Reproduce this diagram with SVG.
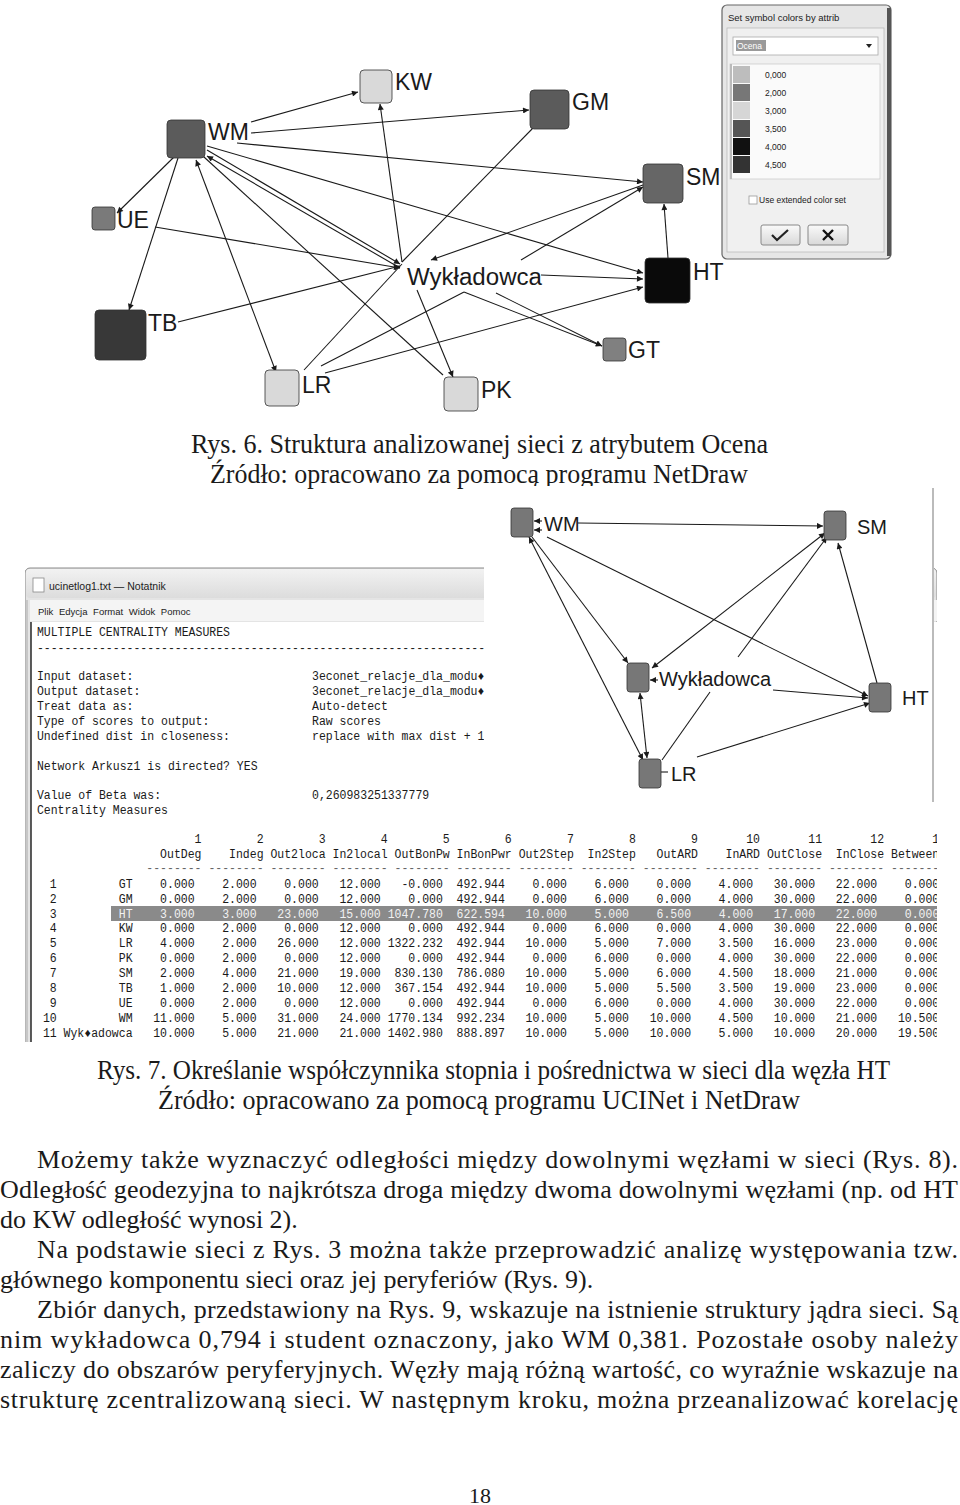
<svg xmlns="http://www.w3.org/2000/svg" width="960" height="1505" viewBox="0 0 960 1505">
<style>
.lbl{font-family:"Liberation Sans",Arial,sans-serif;font-size:23px;fill:#1a1a1a}
.lbl2{font-family:"Liberation Sans",Arial,sans-serif;font-size:20px;fill:#1a1a1a}
.e{stroke:#1a1a1a;stroke-width:1.1;fill:none}
.cap{font-family:"Liberation Serif","Times New Roman",serif;font-size:27px;fill:#1a1a1a;text-anchor:middle}
.par{font-family:"Liberation Serif","Times New Roman",serif;font-size:26px;fill:#1a1a1a}
.mono{font-family:"Liberation Mono","DejaVu Sans Mono",monospace;font-size:12.5px;fill:#1a1a1a;white-space:pre}
.dlg{font-family:"Liberation Sans",Arial,sans-serif;font-size:8.5px;fill:#222}
.n{stroke:#333;stroke-width:0.8}
</style>
<defs>
<marker id="ah" viewBox="0 0 10 10" refX="10" refY="5" markerWidth="7" markerHeight="6" markerUnits="userSpaceOnUse" orient="auto-start-reverse"><path d="M0,0 L10,5 L0,10 z" fill="#1a1a1a"/></marker>
<clipPath id="clipTab"><rect x="25" y="560" width="912" height="482"/></clipPath>
<linearGradient id="tb" x1="0" y1="0" x2="0" y2="1"><stop offset="0" stop-color="#f2f2f2"/><stop offset="1" stop-color="#dcdcdc"/></linearGradient>
<linearGradient id="btn" x1="0" y1="0" x2="0" y2="1"><stop offset="0" stop-color="#fafafa"/><stop offset="1" stop-color="#d8d8d8"/></linearGradient>
</defs>
<rect width="960" height="1505" fill="#ffffff"/>

<!-- ===== Figure 6: network ===== -->
<g id="connectors-fig6">
<line class="e" x1="251" y1="122" x2="358" y2="92" marker-end="url(#ah)"/>
<line class="e" x1="251" y1="133" x2="529" y2="110" marker-end="url(#ah)"/>
<line class="e" x1="237" y1="143" x2="643" y2="182" marker-end="url(#ah)"/>
<line class="e" x1="174" y1="157" x2="117" y2="213" marker-end="url(#ah)"/>
<line class="e" x1="178" y1="158" x2="129" y2="310" marker-end="url(#ah)"/>
<line class="e" x1="196" y1="160" x2="276" y2="372" marker-start="url(#ah)" marker-end="url(#ah)"/>
<line class="e" x1="204" y1="157" x2="443" y2="375"/>
<line class="e" x1="207" y1="150" x2="400" y2="264" marker-end="url(#ah)"/>
<line class="e" x1="400" y1="268" x2="207" y2="156" marker-end="url(#ah)"/>
<line class="e" x1="207" y1="146" x2="643" y2="273" marker-end="url(#ah)"/>
<line class="e" x1="533" y1="128" x2="402" y2="262"/>
<line class="e" x1="643" y1="185" x2="431" y2="260" marker-end="url(#ah)"/>
<line class="e" x1="521" y1="260" x2="643" y2="187" marker-end="url(#ah)"/>
<line class="e" x1="402" y1="262" x2="380" y2="104" marker-end="url(#ah)"/>
<line class="e" x1="155" y1="227" x2="400" y2="268" marker-end="url(#ah)"/>
<line class="e" x1="178" y1="322" x2="400" y2="266" marker-end="url(#ah)"/>
<line class="e" x1="304" y1="370" x2="402" y2="264"/>
<line class="e" x1="541" y1="275" x2="643" y2="279" marker-end="url(#ah)"/>
<line class="e" x1="464" y1="292" x2="602" y2="346" marker-end="url(#ah)"/>
<line class="e" x1="496" y1="293" x2="602" y2="346" marker-end="url(#ah)"/>
<line class="e" x1="321" y1="366" x2="464" y2="292"/>
<line class="e" x1="325" y1="373" x2="643" y2="287" marker-end="url(#ah)"/>
<line class="e" x1="668" y1="258" x2="664" y2="204" marker-end="url(#ah)"/>
<line class="e" x1="417" y1="290" x2="453" y2="377" marker-end="url(#ah)"/>
</g>
<g id="n6-WM"><rect class="n" x="167" y="120" width="38" height="38" rx="4" fill="#5b5b5b"/><text class="lbl" x="208" y="140">WM</text></g>
<g id="n6-KW"><rect class="n" x="360" y="70" width="32" height="33" rx="4" fill="#d9d9d9"/><text class="lbl" x="395" y="90">KW</text></g>
<g id="n6-GM"><rect class="n" x="530" y="90" width="39" height="39" rx="4" fill="#5b5b5b"/><text class="lbl" x="572" y="110">GM</text></g>
<g id="n6-SM"><rect class="n" x="643" y="164" width="40" height="39" rx="4" fill="#666666"/><text class="lbl" x="686" y="185">SM</text></g>
<g id="n6-UE"><rect class="n" x="92" y="207" width="23" height="23" rx="3" fill="#7a7a7a"/><text class="lbl" x="117" y="228">UE</text></g>
<g id="n6-HT"><rect class="n" x="645" y="258" width="45" height="45" rx="4" fill="#0a0a0a"/><text class="lbl" x="693" y="280">HT</text></g>
<g id="n6-Wyk"><text class="lbl" x="407" y="285" textLength="135" lengthAdjust="spacingAndGlyphs">Wykładowca</text></g>
<g id="n6-TB"><rect class="n" x="95" y="310" width="51" height="50" rx="4" fill="#383838"/><text class="lbl" x="148" y="331">TB</text></g>
<g id="n6-GT"><rect class="n" x="603" y="338" width="23" height="23" rx="3" fill="#808080"/><text class="lbl" x="628" y="358">GT</text></g>
<g id="n6-LR"><rect class="n" x="265" y="370" width="34" height="36" rx="4" fill="#d9d9d9"/><text class="lbl" x="302" y="393">LR</text></g>
<g id="n6-PK"><rect class="n" x="444" y="377" width="34" height="34" rx="4" fill="#d9d9d9"/><text class="lbl" x="481" y="398">PK</text></g>

<!-- legend dialog -->
<g id="dialog">
<rect x="722" y="5" width="169" height="254" rx="5" fill="#e6e6e6" stroke="#666" stroke-width="1.2"/>
<rect x="887" y="8" width="4" height="248" fill="#555"/>
<text class="dlg" x="728" y="21" style="font-size:9.5px">Set symbol colors by attrib</text>
<rect x="727" y="28" width="157" height="224" fill="#f0f0f0" stroke="#bbb" stroke-width="0.8"/>
<rect x="733" y="37" width="145" height="18" fill="#fff" stroke="#aaa" stroke-width="0.8"/>
<rect x="736" y="40" width="30" height="11" fill="#9a9a9a"/>
<text class="dlg" x="737" y="49" style="fill:#fff">Ocena</text>
<path d="M866,44 L872,44 L869,48 z" fill="#222"/>
<rect x="730" y="64" width="150" height="115" fill="#fafafa" stroke="#ccc" stroke-width="0.8"/>
<rect x="730" y="64" width="2" height="115" fill="#bbb"/>
<rect x="733" y="66" width="17" height="17" fill="#bdbdbd"/>
<rect x="733" y="84" width="17" height="17" fill="#777777"/>
<rect x="733" y="102" width="17" height="17" fill="#d6d6d6"/>
<rect x="733" y="120" width="17" height="17" fill="#555555"/>
<rect x="733" y="138" width="17" height="17" fill="#111111"/>
<rect x="733" y="156" width="17" height="17" fill="#333333"/>
<text class="dlg" x="765" y="78">0,000</text>
<text class="dlg" x="765" y="96">2,000</text>
<text class="dlg" x="765" y="114">3,000</text>
<text class="dlg" x="765" y="132">3,500</text>
<text class="dlg" x="765" y="150">4,000</text>
<text class="dlg" x="765" y="168">4,500</text>
<rect x="749" y="196" width="8" height="8" fill="#fff" stroke="#999" stroke-width="0.8"/>
<text class="dlg" x="759" y="203">Use extended color set</text>
<rect x="761" y="225" width="39" height="20" rx="2" fill="url(#btn)" stroke="#888"/>
<path d="M772,235 L777,240 L788,230" stroke="#222" stroke-width="2.2" fill="none"/>
<rect x="808" y="225" width="40" height="20" rx="2" fill="url(#btn)" stroke="#888"/>
<path d="M823,230 L833,240 M833,230 L823,240" stroke="#111" stroke-width="2.4" fill="none"/>
</g>

<g id="caption6">
<text class="cap" x="479.5" y="453" textLength="577" lengthAdjust="spacingAndGlyphs">Rys. 6. Struktura analizowanej sieci z atrybutem Ocena</text>
<text class="cap" x="479" y="483" textLength="538" lengthAdjust="spacingAndGlyphs">Źródło: opracowano za pomocą programu NetDraw</text>
</g>

<!-- ===== Figure 7: notepad ===== -->
<g id="notepad" clip-path="url(#clipTab)">
<rect x="25" y="568" width="912" height="480" rx="5" fill="#e4e4e4" stroke="#8a8a8a"/>
<rect x="26" y="569" width="910" height="29" rx="4" fill="url(#tb)"/>
<rect x="33" y="578" width="11" height="14" fill="#fff" stroke="#888" stroke-width="0.8"/>
<text x="49" y="590" style="font-family:'Liberation Sans',Arial,sans-serif;font-size:10.5px;fill:#222">ucinetlog1.txt — Notatnik</text>
<rect x="30" y="600" width="907" height="21" fill="#f4f4f4"/>
<text x="38" y="615" style="font-family:'Liberation Sans',Arial,sans-serif;font-size:9.5px;fill:#222;word-spacing:3px">Plik Edycja Format Widok Pomoc</text>
<rect x="31" y="622" width="906" height="426" fill="#ffffff"/>
<line x1="31" y1="622" x2="31" y2="1048" stroke="#333" stroke-width="1.6"/>
<line x1="27" y1="600" x2="27" y2="1048" stroke="#aaa" stroke-width="1"/>
<rect x="111" y="906" width="826" height="15" fill="#8a8a8a"/>
<g transform="translate(36 0) scale(0.92 1)">
<text class="mono" x="1" y="636">MULTIPLE CENTRALITY MEASURES</text>
<text class="mono" x="1" y="652">----------------------------------------------------------------------</text>
<text class="mono" x="1" y="680">Input dataset:</text>
<text class="mono" x="1" y="695">Output dataset:</text>
<text class="mono" x="1" y="710">Treat data as:</text>
<text class="mono" x="1" y="725">Type of scores to output:</text>
<text class="mono" x="1" y="740">Undefined dist in closeness:</text>
<text class="mono" x="300" y="680">3econet_relacje_dla_modu♦</text>
<text class="mono" x="300" y="695">3econet_relacje_dla_modu♦</text>
<text class="mono" x="300" y="710">Auto-detect</text>
<text class="mono" x="300" y="725">Raw scores</text>
<text class="mono" x="300" y="740">replace with max dist + 1</text>
<text class="mono" x="1" y="770">Network Arkusz1 is directed? YES</text>
<text class="mono" x="1" y="799">Value of Beta was:</text>
<text class="mono" x="300" y="799">0,260983251337779</text>
<text class="mono" x="1" y="814">Centrality Measures</text>
<text class="mono" x="0" y="843">                       1        2        3        4        5        6        7        8        9       10       11       12       13</text>
<text class="mono" x="0" y="858">                  OutDeg    Indeg Out2loca In2local OutBonPw InBonPwr Out2Step  In2Step   OutARD    InARD OutClose  InClose Betweenn</text>
<text class="mono" x="0" y="872" style="fill:#666">                -------- -------- -------- -------- -------- -------- -------- -------- -------- -------- -------- -------- --------</text>
<text class="mono" x="0" y="888">  1         GT    0.000    2.000    0.000   12.000   -0.000  492.944    0.000    6.000    0.000    4.000   30.000   22.000    0.000</text>
<text class="mono" x="0" y="903">  2         GM    0.000    2.000    0.000   12.000    0.000  492.944    0.000    6.000    0.000    4.000   30.000   22.000    0.000</text>
<text class="mono" x="0" y="918">  3         <tspan style="fill:#f2f2f2">HT    3.000    3.000   23.000   15.000 1047.780  622.594   10.000    5.000    6.500    4.000   17.000   22.000    0.000</tspan></text>
<text class="mono" x="0" y="932">  4         KW    0.000    2.000    0.000   12.000    0.000  492.944    0.000    6.000    0.000    4.000   30.000   22.000    0.000</text>
<text class="mono" x="0" y="947">  5         LR    4.000    2.000   26.000   12.000 1322.232  492.944   10.000    5.000    7.000    3.500   16.000   23.000    0.000</text>
<text class="mono" x="0" y="962">  6         PK    0.000    2.000    0.000   12.000    0.000  492.944    0.000    6.000    0.000    4.000   30.000   22.000    0.000</text>
<text class="mono" x="0" y="977">  7         SM    2.000    4.000   21.000   19.000  830.130  786.080   10.000    5.000    6.000    4.500   18.000   21.000    0.000</text>
<text class="mono" x="0" y="992">  8         TB    1.000    2.000   10.000   12.000  367.154  492.944   10.000    5.000    5.500    3.500   19.000   23.000    0.000</text>
<text class="mono" x="0" y="1007">  9         UE    0.000    2.000    0.000   12.000    0.000  492.944    0.000    6.000    0.000    4.000   30.000   22.000    0.000</text>
<text class="mono" x="0" y="1022"> 10         WM   11.000    5.000   31.000   24.000 1770.134  992.234   10.000    5.000   10.000    4.500   10.000   21.000   10.500</text>
<text class="mono" x="0" y="1037"> 11 Wyk♦adowca   10.000    5.000   21.000   21.000 1402.980  888.897   10.000    5.000   10.000    5.000   10.000   20.000   19.500</text>
</g>
</g>

<!-- Figure 7 network picture -->
<rect x="484" y="486" width="449" height="344" fill="#ffffff"/>
<line x1="933" y1="488" x2="933" y2="802" stroke="#bbb" stroke-width="2"/>
<g id="connectors-fig7">
<line class="e" x1="578" y1="523" x2="823" y2="526" marker-end="url(#ah)"/>
<line class="e" x1="542" y1="521" x2="534" y2="521" marker-end="url(#ah)"/>
<line class="e" x1="542" y1="530" x2="534" y2="530" marker-end="url(#ah)"/>
<line class="e" x1="547" y1="537" x2="868" y2="696" marker-end="url(#ah)"/>
<line class="e" x1="532" y1="537" x2="628" y2="663" marker-end="url(#ah)"/>
<line class="e" x1="529" y1="537" x2="643" y2="760" marker-start="url(#ah)" marker-end="url(#ah)"/>
<line class="e" x1="652" y1="668" x2="825" y2="533" marker-start="url(#ah)" marker-end="url(#ah)"/>
<line class="e" x1="738" y1="657" x2="827" y2="537" marker-end="url(#ah)"/>
<line class="e" x1="773" y1="690" x2="868" y2="698" marker-end="url(#ah)"/>
<line class="e" x1="658" y1="680" x2="650" y2="680" marker-end="url(#ah)"/>
<line class="e" x1="640" y1="693" x2="647" y2="758" marker-start="url(#ah)" marker-end="url(#ah)"/>
<line class="e" x1="662" y1="760" x2="710" y2="692"/>
<line class="e" x1="697" y1="757" x2="870" y2="703" marker-end="url(#ah)"/>
<line class="e" x1="877" y1="683" x2="838" y2="543" marker-end="url(#ah)"/>
<line class="e" x1="661" y1="772" x2="668" y2="772"/>
</g>
<g id="n7-WM"><rect class="n" x="511" y="508" width="22" height="29" rx="3" fill="#777"/><text class="lbl2" x="544" y="531">WM</text></g>
<g id="n7-SM"><rect class="n" x="824" y="511" width="22" height="29" rx="3" fill="#777"/><text class="lbl2" x="857" y="534">SM</text></g>
<g id="n7-Wyk"><rect class="n" x="627" y="663" width="22" height="29" rx="3" fill="#777"/><text class="lbl2" x="659" y="686">Wykładowca</text></g>
<g id="n7-HT"><rect class="n" x="869" y="683" width="22" height="29" rx="3" fill="#777"/><text class="lbl2" x="902" y="705">HT</text></g>
<g id="n7-LR"><rect class="n" x="639" y="759" width="22" height="29" rx="3" fill="#777"/><text class="lbl2" x="671" y="781">LR</text></g>

<g id="caption7">
<text class="cap" x="493.5" y="1079" textLength="793" lengthAdjust="spacingAndGlyphs">Rys. 7. Określanie współczynnika stopnia i pośrednictwa w sieci dla węzła HT</text>
<text class="cap" x="479" y="1109" textLength="642" lengthAdjust="spacingAndGlyphs">Źródło: opracowano za pomocą programu UCINet i NetDraw</text>
</g>

<g id="paragraph">
<text class="par" x="37" y="1168" textLength="921" lengthAdjust="spacing">Możemy także wyznaczyć odległości między dowolnymi węzłami w sieci (Rys. 8).</text>
<text class="par" x="0" y="1198" textLength="958" lengthAdjust="spacing">Odległość geodezyjna to najkrótsza droga między dwoma dowolnymi węzłami (np. od HT</text>
<text class="par" x="0" y="1228">do KW odległość wynosi 2).</text>
<text class="par" x="37" y="1258" textLength="921" lengthAdjust="spacing">Na podstawie sieci z Rys. 3 można także przeprowadzić analizę występowania tzw.</text>
<text class="par" x="0" y="1288">głównego komponentu sieci oraz jej peryferiów (Rys. 9).</text>
<text class="par" x="37" y="1318" textLength="921" lengthAdjust="spacing">Zbiór danych, przedstawiony na Rys. 9, wskazuje na istnienie struktury jądra sieci. Są</text>
<text class="par" x="0" y="1348" textLength="958" lengthAdjust="spacing">nim wykładowca 0,794 i student oznaczony, jako WM 0,381. Pozostałe osoby należy</text>
<text class="par" x="0" y="1378" textLength="958" lengthAdjust="spacing">zaliczy do obszarów peryferyjnych. Węzły mają różną wartość, co wyraźnie wskazuje na</text>
<text class="par" x="0" y="1408" textLength="958" lengthAdjust="spacing">strukturę zcentralizowaną sieci. W następnym kroku, można przeanalizować korelację</text>
</g>
<text class="par" x="480" y="1503" text-anchor="middle" style="font-size:22px">18</text>
</svg>
